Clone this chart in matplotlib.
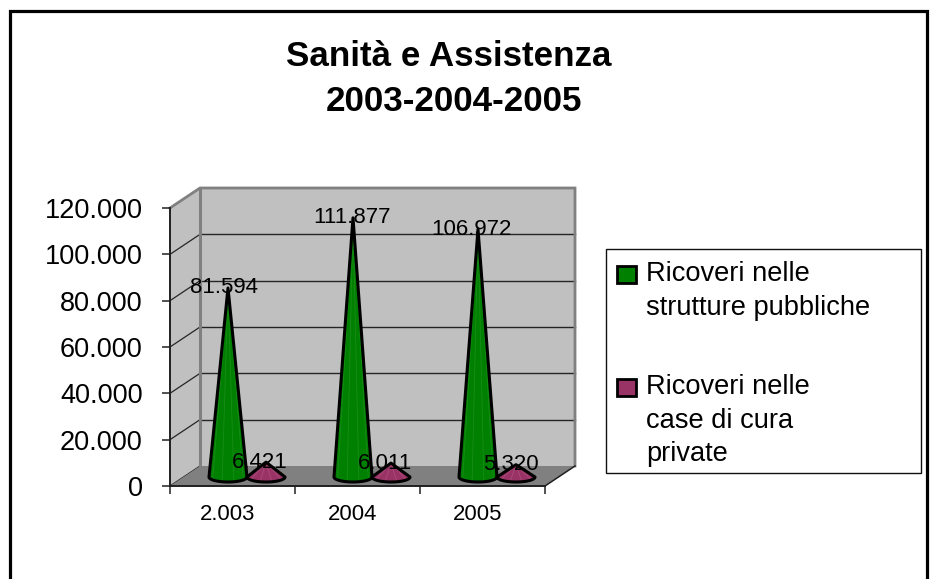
import numpy as np
import matplotlib
matplotlib.use("Agg")
import matplotlib.pyplot as plt
from matplotlib.patches import Polygon, Rectangle, Patch
from matplotlib.lines import Line2D
from matplotlib.transforms import Affine2D
from matplotlib.ticker import FuncFormatter

years = ["2.003", "2004", "2005"]
pubbliche = [81594, 111877, 106972]
private = [6421, 6011, 5320]
label_pubbliche = ["81.594", "111.877", "106.972"]
label_private = ["6.421", "6.011", "5.320"]
series_names = ["Ricoveri nelle\nstrutture pubbliche", "Ricoveri nelle\ncase di cura\nprivate"]
y_ticks = [0, 20000, 40000, 60000, 80000, 100000, 120000]

plt.rcParams['font.family'] = ['Liberation Sans', 'DejaVu Sans']
W, H = 930, 579
fig = plt.figure(figsize=(W / 100, H / 100), dpi=100)
fig.patch.set_facecolor("white")

# outer frame (runs off the bottom of the picture)
fig.add_artist(Line2D(np.array([9.5, 9.5, 926.5, 926.5]) / W,
                      1 - np.array([600, 10.5, 10.5, 600]) / H,
                      color="black", lw=2.3, solid_joinstyle="miter"))

L, R, TOP, BOT = 170, 545, 208, 486
ax = fig.add_axes([L / W, 1 - BOT / H, (R - L) / W, (BOT - TOP) / H])
ax.set_xlim(0, 3)
ax.set_ylim(0, 120000)
ax.patch.set_visible(False)
for s in ("top", "right"):
    ax.spines[s].set_visible(False)
for s in ("left", "bottom"):
    ax.spines[s].set_linewidth(1.4)
    ax.spines[s].set_color("#202020")

PXX = 3 / (R - L)
PXY = 120000 / (BOT - TOP)
back = ax.transData + Affine2D().translate(30, 20)
mid = ax.transData + Affine2D().translate(10, 9)
YMAX = y_ticks[-1]

# walls and floor
ax.add_patch(Polygon([(0, 0), (3, 0), (3, YMAX), (0, YMAX)], closed=True, transform=back,
                     fc="#C0C0C0", ec="none", zorder=1, clip_on=False))
ax.add_patch(Polygon([(0, 0), (30 * PXX, 20 * PXY), (30 * PXX, YMAX + 20 * PXY), (0, YMAX)],
                     closed=True, fc="#C0C0C0", ec="none", zorder=1, clip_on=False))
ax.add_patch(Polygon([(0, 0), (3, 0), (3 + 30 * PXX, 20 * PXY), (30 * PXX, 20 * PXY)],
                     closed=True, fc="#808080", ec="none", zorder=1.5, clip_on=False))

# gridlines on back and side walls
for v in y_ticks[1:-1]:
    ax.plot([0, 3], [v, v], transform=back, color="#262626", lw=1.0, zorder=1.2, clip_on=False)
for v in y_ticks[:-1]:
    ax.plot([0, 30 * PXX], [v, v + 20 * PXY], color="#262626", lw=0.9, zorder=1.2, clip_on=False)

# wall outline
ax.plot([0, 30 * PXX, 3 + 30 * PXX, 3 + 30 * PXX],
        [YMAX, YMAX + 20 * PXY, YMAX + 20 * PXY, 20 * PXY],
        color="#808080", lw=2.0, zorder=1.3, clip_on=False, solid_joinstyle="miter")
ax.plot([0, 0], [0, YMAX], transform=back, color="#808080", lw=2.2, zorder=1.3, clip_on=False)
ax.plot([3, 3 + 30 * PXX], [0, 20 * PXY], color="#202020", lw=1.1, zorder=1.6, clip_on=False)


def cone(xc, val, color, streak):
    hw = 19 * PXX
    hh = 5 * PXY
    t = np.linspace(np.pi, 2 * np.pi, 40)
    bx = xc + hw * np.cos(t)
    by = hh * np.sin(t)
    pts = np.column_stack([np.r_[xc, bx], np.r_[val, by]])
    ax.add_patch(Polygon(pts, closed=True, transform=mid, fc=color, ec="none",
                         zorder=5, clip_on=False))
    for a in np.linspace(np.pi * 1.2, np.pi * 1.8, 4):
        ax.plot([xc, xc + hw * np.cos(a)], [val, hh * np.sin(a)], transform=mid,
                color=streak, lw=0.6, alpha=0.4, zorder=5.1, clip_on=False)
    ax.add_patch(Polygon(pts, closed=True, transform=mid, fc="none", ec="black", lw=2.2,
                         joinstyle="round", zorder=5.2, clip_on=False))


green_x = [i + 0.384 for i in range(3)]
purple_x = [i + 0.688 for i in range(3)]
green_dx = [-4, -1, -7]
purple_dx = [-6, -6, -5]
for i in range(3):
    cone(green_x[i], pubbliche[i], "#008000", "#3FA03F")
    cone(purple_x[i], private[i], "#993366", "#C46A95")

for i in range(3):
    ax.annotate(label_pubbliche[i], (green_x[i], pubbliche[i]), xycoords=mid,
                xytext=(green_dx[i], 0), textcoords="offset pixels",
                ha="center", va="center", fontsize=16, zorder=7, annotation_clip=False)
    ax.annotate(label_private[i], (purple_x[i], private[i]), xycoords=mid,
                xytext=(purple_dx[i], 0), textcoords="offset pixels",
                ha="center", va="center", fontsize=16, zorder=7, annotation_clip=False)

ax.set_yticks(y_ticks)
ax.yaxis.set_major_formatter(FuncFormatter(lambda v, _: f"{int(v):,}".replace(",", ".")))
ax.tick_params(axis="y", length=5.8, width=1.1, pad=14, labelsize=19.5, color="#202020")
ax.set_xticks([0, 1, 2, 3])
ax.set_xticklabels([])
ax.set_xticks([i + 0.46 for i in range(3)], labels=years, minor=True)
ax.tick_params(axis="x", which="major", length=5.5, width=1.1, color="#202020")
ax.tick_params(axis="x", which="minor", length=0, pad=13, labelsize=15.9)

# titles
fig.text(449 / W, 1 - 66 / H, "Sanità e Assistenza", ha="center", va="baseline",
         fontsize=25.2, fontweight="bold")
fig.text(453.5 / W, 1 - 111 / H, "2003-2004-2005", ha="center", va="baseline",
         fontsize=25.2, fontweight="bold")

# legend
fig.add_artist(Rectangle((606 / W, 1 - 473 / H), 315 / W, 224 / H, transform=fig.transFigure,
                         fc="white", ec="#101010", lw=1.0))
handles = [Patch(fc="#008000", ec="black", lw=2.0), Patch(fc="#993366", ec="black", lw=2.0)]
leg = fig.legend(handles, series_names, loc="upper left",
                 bbox_to_anchor=(617 / W, 1 - 261 / H), frameon=False, fontsize=19.6,
                 handlelength=0.7, handleheight=0.62, handletextpad=0.37, labelspacing=1.95,
                 borderpad=0, borderaxespad=0)
for t in leg.get_texts():
    t.set_linespacing(1.39)
# each swatch sits beside the first line of its label
for h, n in zip(leg.legend_handles, (1, 2)):
    h.set_y(h.get_y() + n * 33.5 / 2 * 0.72)

fig.savefig("out.png", dpi=100)
